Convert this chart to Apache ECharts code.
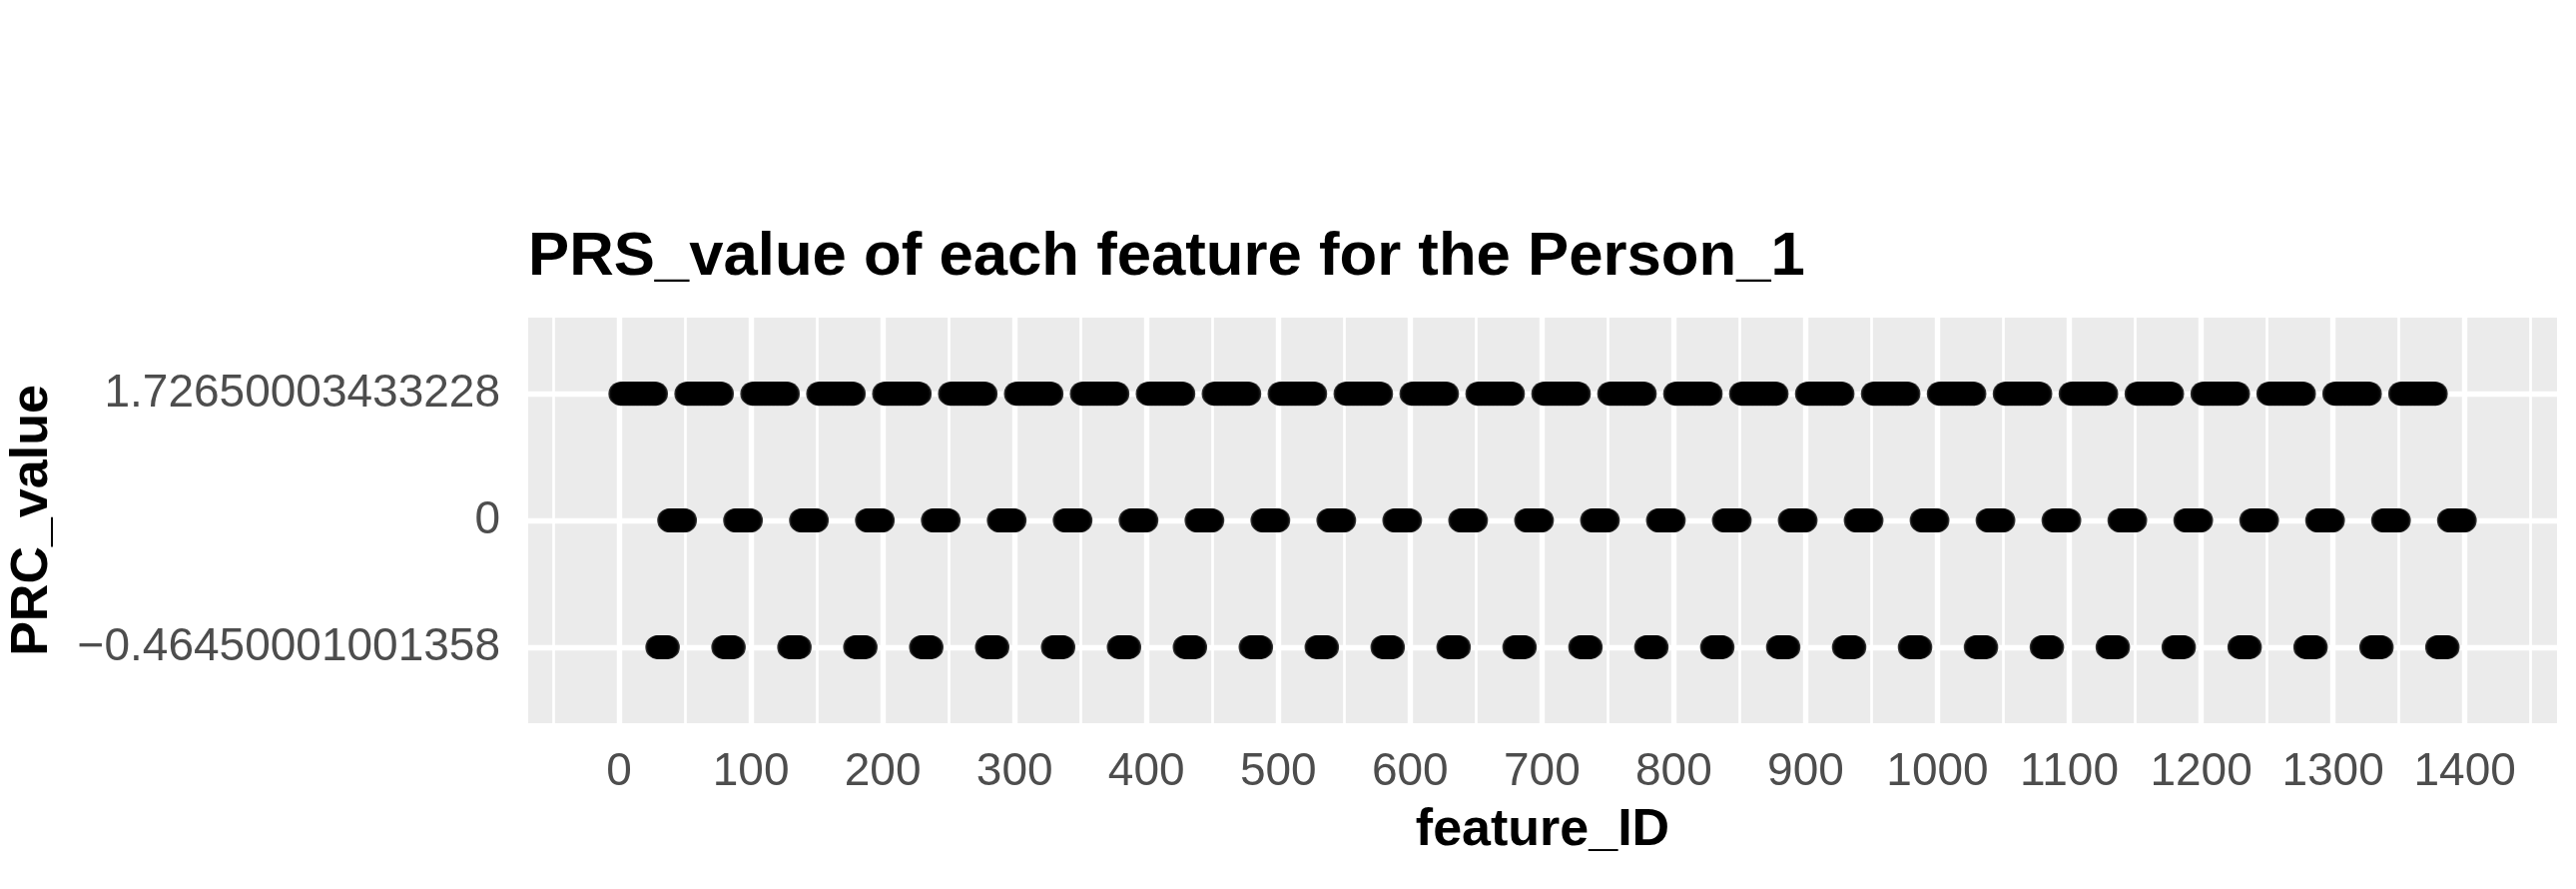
<!DOCTYPE html>
<html>
<head>
<meta charset="utf-8">
<script src="https://cdn.jsdelivr.net/npm/echarts@6/dist/echarts.min.js"></script>
<style>html,body{margin:0;padding:0;background:#fff;}#c{width:2580px;height:890px;}</style>
</head>
<body>
<div id="c"></div>
<script>
// y categories (bottom to top)
const yLabels = ['-0.46450001001358', '0', '1.72650003433228'];
// x tick labels
const xTicks = [0, 100, 200, 300, 400, 500, 600, 700, 800, 900, 1000, 1100, 1200, 1300, 1400];
const xMinor = [-50, 50, 150, 250, 350, 450, 550, 650, 750, 850, 950, 1050, 1150, 1250, 1350, 1450];
// runs of consecutive feature_IDs [first, last] sharing the same value
const runsTop = [[1,28],[51,78],[101,128],[151,178],[201,228],[251,278],[301,328],[351,378],[401,428],[451,478],[501,528],[551,578],[601,628],[651,678],[701,728],[751,778],[801,828],[851,878],[901,928],[951,978],[1001,1028],[1051,1078],[1101,1128],[1151,1178],[1201,1228],[1251,1278],[1301,1328],[1351,1378]];
const runsBottom = [[29,37],[79,87],[129,137],[179,187],[229,237],[279,287],[329,337],[379,387],[429,437],[479,487],[529,537],[579,587],[629,637],[679,687],[729,737],[779,787],[829,837],[879,887],[929,937],[979,987],[1029,1037],[1079,1087],[1129,1137],[1179,1187],[1229,1237],[1279,1287],[1329,1337],[1379,1387]];
const runsMiddle = [[38,50],[88,100],[138,150],[188,200],[238,250],[288,300],[338,350],[388,400],[438,450],[488,500],[538,550],[588,600],[638,650],[688,700],[738,750],[788,800],[838,850],[888,900],[938,950],[988,1000],[1038,1050],[1088,1100],[1138,1150],[1188,1200],[1238,1250],[1288,1300],[1338,1350],[1388,1400]];

function expand(runs, yIdx) {
  const out = [];
  runs.forEach(r => { for (let id = r[0]; id <= r[1]; id++) out.push([id, yIdx]); });
  return out;
}
const points = [].concat(expand(runsBottom, 0), expand(runsMiddle, 1), expand(runsTop, 2));

const FONT = "'Liberation Sans', Arial, Helvetica, sans-serif";
const chart = echarts.init(document.getElementById('c'), null, {renderer: 'canvas'});
const gridLines = [];
xMinor.forEach(v => gridLines.push({xAxis: v, lineStyle: {width: 2.7}}));
xTicks.forEach(v => gridLines.push({xAxis: v, lineStyle: {width: 5.4}}));
[0, 1, 2].forEach(v => gridLines.push({yAxis: v, lineStyle: {width: 5.4}}));

chart.setOption({
  animation: false,
  backgroundColor: '#ffffff',
  title: {
    text: 'PRS_value of each feature for the Person_1',
    left: 529, top: 227, padding: 0,
    textStyle: {fontFamily: FONT, fontSize: 61.7, fontWeight: 'bold', color: '#000000'}
  },
  grid: {
    left: 529, right: 19, top: 318, bottom: 166,
    outerBoundsMode: 'none', containLabel: false,
    show: true, backgroundColor: '#EBEBEB', borderWidth: 0
  },
  xAxis: {
    type: 'value', min: -68.95, max: 1469.95,
    name: 'feature_ID', nameLocation: 'middle', nameGap: 82,
    nameTextStyle: {fontFamily: FONT, fontSize: 52, fontWeight: 'bold', color: '#000000'},
    axisLine: {show: false},
    axisTick: {show: true, length: 14, lineStyle: {color: '#333333', width: 5}, customValues: xTicks},
    axisLabel: {show: true, margin: 26, fontFamily: FONT, fontSize: 46, color: '#4D4D4D', customValues: xTicks,
      formatter: v => String(v)},
    splitLine: {show: false}
  },
  yAxis: {
    type: 'value', min: -0.6, max: 2.6,
    name: 'PRC_value', nameLocation: 'middle', nameGap: 470, nameRotate: 90,
    nameTextStyle: {fontFamily: FONT, fontSize: 52, fontWeight: 'bold', color: '#000000'},
    axisLine: {show: false},
    axisTick: {show: true, length: 14, lineStyle: {color: '#333333', width: 5}, customValues: [0, 1, 2]},
    axisLabel: {show: true, margin: 28, fontFamily: FONT, fontSize: 46, color: '#4D4D4D', customValues: [0, 1, 2],
      formatter: v => yLabels[Math.round(v)].replace('-', '\u2212')},
    splitLine: {show: false}
  },
  series: [
    {
      type: 'line', data: [], z: 1, silent: true,
      markLine: {silent: true, z: 1, symbol: ['none', 'none'], label: {show: false},
        lineStyle: {color: '#ffffff', type: 'solid'}, data: gridLines}
    },
    {
      type: 'scatter', z: 3, data: points, symbol: 'circle', symbolSize: 24,
      itemStyle: {color: '#000000'}
    }
  ]
});
</script>
</body>
</html>
